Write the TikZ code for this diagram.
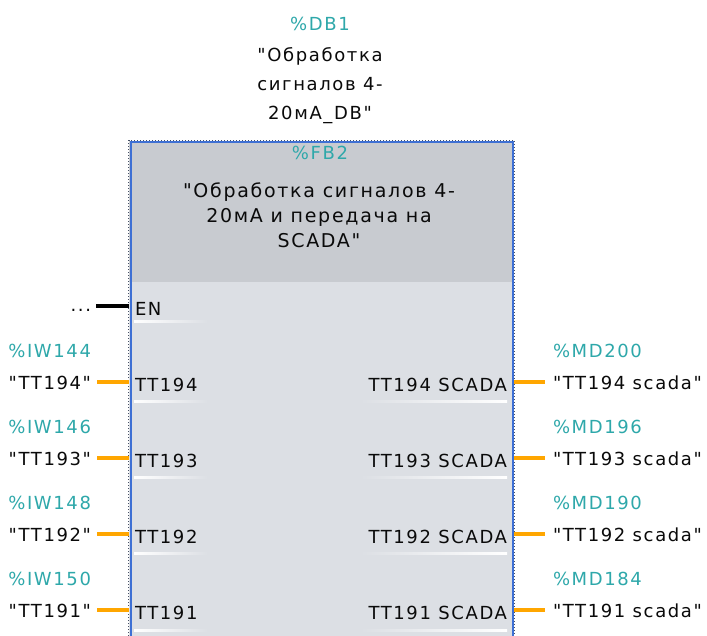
\documentclass[tikz,border=0pt]{standalone}
\usepackage{fontspec}
% family without TeX ligature mapping, so " stays a straight quote
\newfontfamily\dvs[LetterSpace=9]{DejaVu Sans}
\definecolor{tagteal}{RGB}{46,168,170}
\definecolor{wireorange}{RGB}{255,166,0}
\definecolor{headgrey}{RGB}{200,203,208}
\definecolor{bodygrey}{RGB}{220,223,228}
\definecolor{frameblue}{RGB}{62,112,212}
\definecolor{framedots}{RGB}{70,80,100}
\definecolor{textblack}{RGB}{10,10,10}
\begin{document}
\begin{tikzpicture}[x=1pt,y=-1pt,
  txt/.style={inner sep=0pt, outer sep=0pt, font=\dvs\fontsize{18}{29}\selectfont, text=textblack},
  tag/.style={txt, text=tagteal},
  wire/.style={draw=wireorange, line width=3.4pt},
  enwire/.style={draw=black, line width=3.2pt}]
\useasboundingbox (0,0) rectangle (707,636);
\clip (0,0) rectangle (707,636);
\fill[white] (0,0) rectangle (707,636);

% instance data block
\node[tag, anchor=base] (db) at (320,31) {\%DB1};
\node[txt, align=center] (dbname) at (320,86) {"Обработка\\сигналов 4-\\20мА\_DB"};

% function block body
\fill[bodygrey] (129,141) rectangle (514,660);
\fill[headgrey] (129,141) rectangle (514,282);
\draw[framedots, line width=1pt, dotted] (128.5,660) -- (128.5,140.5) -- (514.5,140.5) -- (514.5,660);
\draw[frameblue, line width=2pt] (130.5,660) -- (130.5,142.5) -- (512.5,142.5) -- (512.5,660);

\node[tag, anchor=base] (fbnum) at (320,159.5) {\%FB2};
\node[txt, align=center, font=\dvs\fontsize{19}{25}\selectfont] (fbname) at (319,215) {"Обработка сигналов 4-\\20мА и передача на\\SCADA"};

% pin underlines
\foreach \y in {322,401,477,553,630}{
  \shade[left color=white, right color=bodygrey] (134,\y-1) rectangle (208,\y+1);
}
\foreach \y in {401,477,553,630}{
  \shade[left color=bodygrey, right color=white] (360,\y-1) rectangle (507,\y+1);
}

% enable input
\node[txt, anchor=base west] (en) at (135,316) {EN};
\node[txt, anchor=base east] (endots) at (91,312) {...};
\coordinate (enfree) at (96,306);
\coordinate (enpin) at (129,306);
\draw[enwire] (enfree) -- (enpin);

% inputs
\foreach \n/\yw/\tag/\sym in {1/382/IW144/TT194, 2/458/IW146/TT193, 3/534/IW148/TT192, 4/610/IW150/TT191}{
  \node[tag, anchor=base east] (itag\n) at (91,\yw-25) {\%\tag};
  \node[txt, anchor=base east] (isym\n) at (91,\yw+7) {"\sym"};
  \node[txt, anchor=base west] (ipin\n) at (135,\yw+9.5) {\sym};
  \coordinate (iw\n) at (97,\yw);
  \coordinate (ie\n) at (129,\yw);
  \draw[wire] (iw\n) -- (ie\n);
}

% outputs
\foreach \n/\yw/\tag/\sym in {1/382/MD200/TT194, 2/458/MD196/TT193, 3/534/MD190/TT192, 4/610/MD184/TT191}{
  \node[tag, anchor=base west] (otag\n) at (553,\yw-25) {\%\tag};
  \node[txt, anchor=base west] (osym\n) at (553,\yw+7) {"\sym\ scada"};
  \node[txt, anchor=base east] (opin\n) at (507,\yw+9.5) {\sym\ SCADA};
  \coordinate (ow\n) at (514,\yw);
  \coordinate (oe\n) at (545,\yw);
  \draw[wire] (ow\n) -- (oe\n);
}
\end{tikzpicture}
\end{document}
